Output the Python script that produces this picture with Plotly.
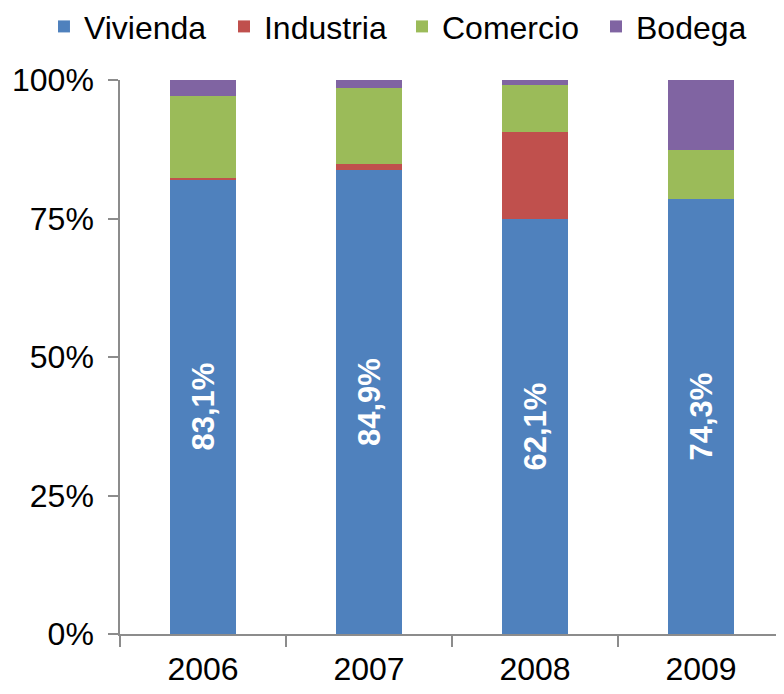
import plotly.graph_objects as go

years = ["2006", "2007", "2008", "2009"]
vivienda = [82.1, 83.7, 74.9, 78.5]
industria = [0.3, 1.1, 15.7, 0.0]
comercio = [14.8, 13.7, 8.5, 8.8]
bodega = [2.8, 1.5, 0.9, 12.7]
vivienda_labels = ["83,1%", "84,9%", "62,1%", "74,3%"]

series = [
    ("Vivienda", vivienda, "#4F81BD"),
    ("Industria", industria, "#C0504D"),
    ("Comercio", comercio, "#9BBB59"),
    ("Bodega", bodega, "#8064A2"),
]

font = "Liberation Sans, Arial, sans-serif"
axis_grey = "#8C8C8C"

# one legend box per series so the entries sit where the original has them
legend_ids = ["legend", "legend2", "legend3", "legend4"]
legend_x = [-0.1145, 0.1566, 0.4247, 0.7169]

# the page body adds an 8px margin, so the figure is sized/offset to compensate
fig = go.Figure()
for (name, vals, color), lid in zip(series, legend_ids):
    kw = {}
    if name == "Vivienda":
        kw = dict(
            text=vivienda_labels,
            textposition="inside",
            textangle=-90,
            insidetextanchor="middle",
            textfont=dict(family=font, size=31, color="white", weight="bold"),
        )
    fig.add_trace(go.Bar(
        x=years, y=vals, name=name, legend=lid,
        marker=dict(color=color, line=dict(width=0)),
        hoverinfo="skip",
        **kw,
    ))

legend_style = dict(
    orientation="h", y=1.146, xanchor="left", yanchor="top",
    font=dict(size=32), itemwidth=30, bgcolor="rgba(0,0,0,0)",
)

fig.update_layout(
    barmode="stack",
    bargap=0.6,
    width=776, height=686,
    margin=dict(l=112, r=0, t=72, b=60, autoexpand=False),
    plot_bgcolor="white", paper_bgcolor="white",
    font=dict(family=font, size=32, color="black"),
    showlegend=True,
    uniformtext=dict(minsize=8, mode="show"),
    **{lid: dict(x=lx, **legend_style) for lid, lx in zip(legend_ids, legend_x)},
)
fig.update_xaxes(
    type="category",
    showline=True, linecolor=axis_grey, linewidth=1.5,
    ticks="outside", tickson="boundaries", ticklen=11, tickcolor=axis_grey, tickwidth=1.5,
    tickfont=dict(size=32),
    showgrid=False,
    ticklabelstandoff=6,
)
fig.update_yaxes(
    range=[0, 100],
    tickvals=[0, 25, 50, 75, 100],
    ticktext=["0%", "25%", "50%", "75%", "100%"],
    showline=True, linecolor=axis_grey, linewidth=1.5,
    ticks="outside", ticklen=10, tickcolor=axis_grey, tickwidth=1.5,
    tickfont=dict(size=32),
    showgrid=False, zeroline=False,
    ticklabelstandoff=8,
)

fig.write_html("out.html")
